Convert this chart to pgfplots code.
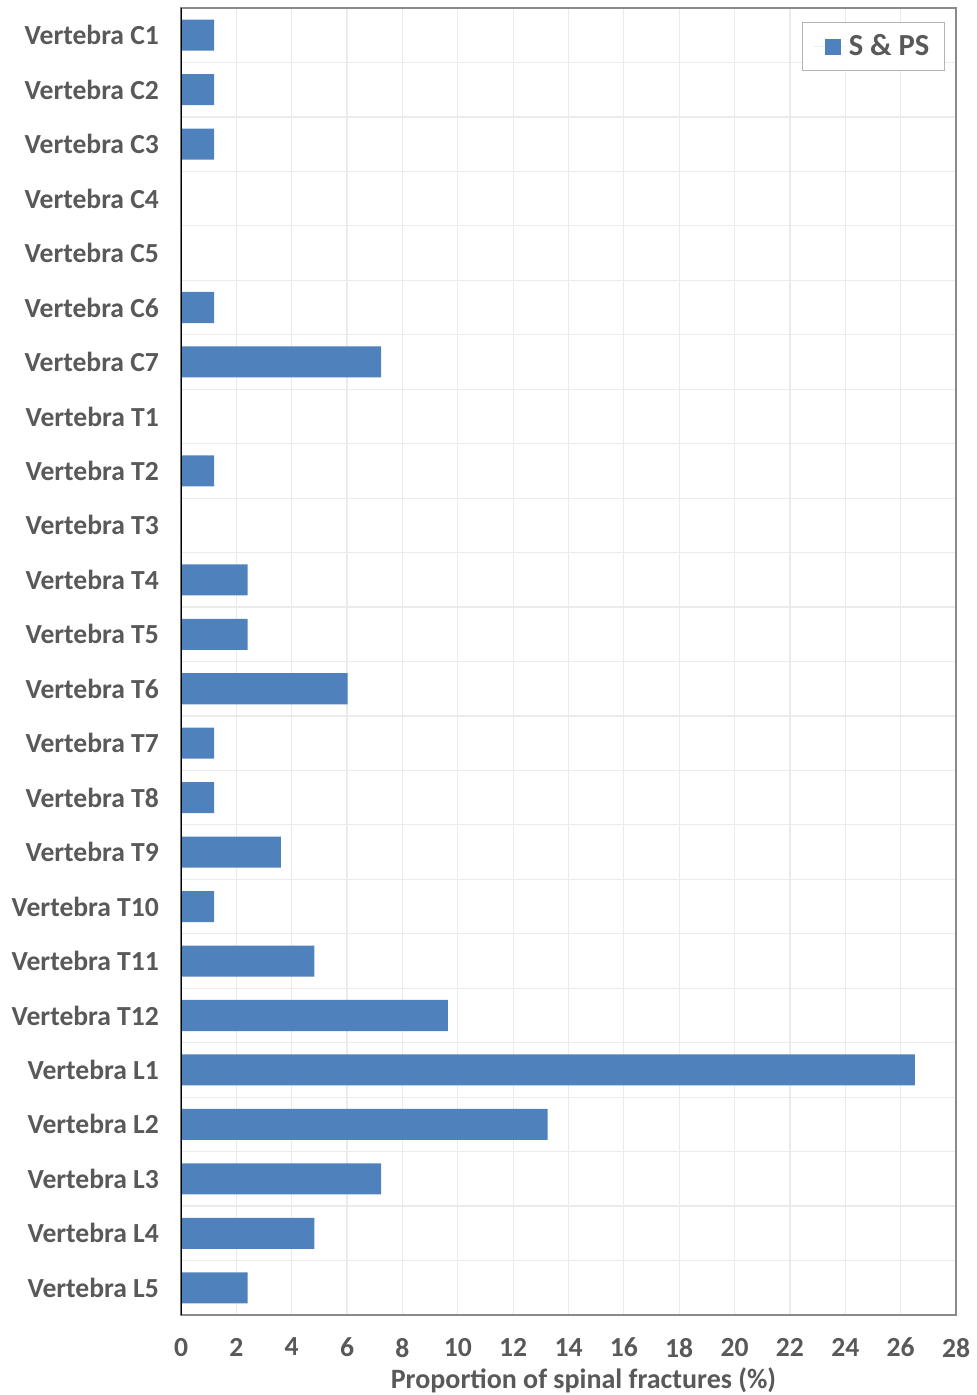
\documentclass[border=0pt]{standalone}
\usepackage{fontspec}
\setmainfont{Carlito}
\usepackage{pgfplots}
\pgfplotsset{compat=1.18}
\definecolor{barblue}{HTML}{4F81BD}
\definecolor{txt}{HTML}{595959}
\definecolor{gridc}{HTML}{EBEBEB}
\definecolor{framec}{HTML}{8A8A8A}
\definecolor{legc}{HTML}{B4B4B4}
\begin{document}
\begin{tikzpicture}
\begin{axis}[
  at={(90.5pt,40pt)}, anchor=south west,
  scale only axis, width=387.5pt, height=653.5pt,
  xbar, bar width=0.57, bar shift=0pt,
  xmin=0, xmax=28, xtick={0,2,...,28},
  ymin=-0.5, ymax=23.5, y dir=reverse,
  ytick={0,...,23},
  yticklabels={Vertebra C1,Vertebra C2,Vertebra C3,Vertebra C4,Vertebra C5,Vertebra C6,Vertebra C7,Vertebra T1,Vertebra T2,Vertebra T3,Vertebra T4,Vertebra T5,Vertebra T6,Vertebra T7,Vertebra T8,Vertebra T9,Vertebra T10,Vertebra T11,Vertebra T12,Vertebra L1,Vertebra L2,Vertebra L3,Vertebra L4,Vertebra L5},
  minor ytick={0.5,1.5,...,22.5},
  ymajorgrids=false, yminorgrids=true, xmajorgrids=true,
  grid style={gridc, line width=0.6pt},
  minor grid style={gridc, line width=0.6pt},
  axis line style={framec, line width=0.6pt},
  major tick length=0pt, minor tick length=0pt,
  tick style={draw=none},
  ticklabel style={font=\fontsize{13.8}{16}\selectfont\bfseries, text=txt},
  xticklabel style={yshift=-8pt},
  yticklabel style={xshift=-7.5pt},
  /pgf/number format/assume math mode=true,
  xlabel={Proportion of spinal fractures (\%)},
  xlabel style={font=\fontsize{14}{16}\selectfont\bfseries, text=txt, at={(axis description cs:0.5,0)}, anchor=center, yshift=-32.5pt, xshift=7.5pt},
  legend style={at={(1,1)}, anchor=north east, xshift=-5.5pt, yshift=-7pt, draw=legc, line width=0.6pt, font=\fontsize{15.3}{17}\selectfont\bfseries, text=txt, inner xsep=5.5pt, inner ysep=4pt},
  legend image code/.code={\path (-5.5pt,0pt) -- (10pt,0pt);\fill[barblue] (0pt,-4pt) rectangle (8pt,4pt);},
]
\addplot[fill=barblue, draw=none] coordinates {(1.2,0) (1.2,1) (1.2,2) (0,3) (0,4) (1.2,5) (7.23,6) (0,7) (1.2,8) (0,9) (2.41,10) (2.41,11) (6.02,12) (1.2,13) (1.2,14) (3.61,15) (1.2,16) (4.82,17) (9.64,18) (26.51,19) (13.25,20) (7.23,21) (4.82,22) (2.41,23)};
\addlegendentry{S \& PS}
\draw[black, line width=0.6pt] (axis cs:0,-0.5) -- (axis cs:0,23.5);
\end{axis}
\pgfresetboundingbox
\path (0,0) rectangle (488pt,697.5pt);
\end{tikzpicture}
\end{document}
